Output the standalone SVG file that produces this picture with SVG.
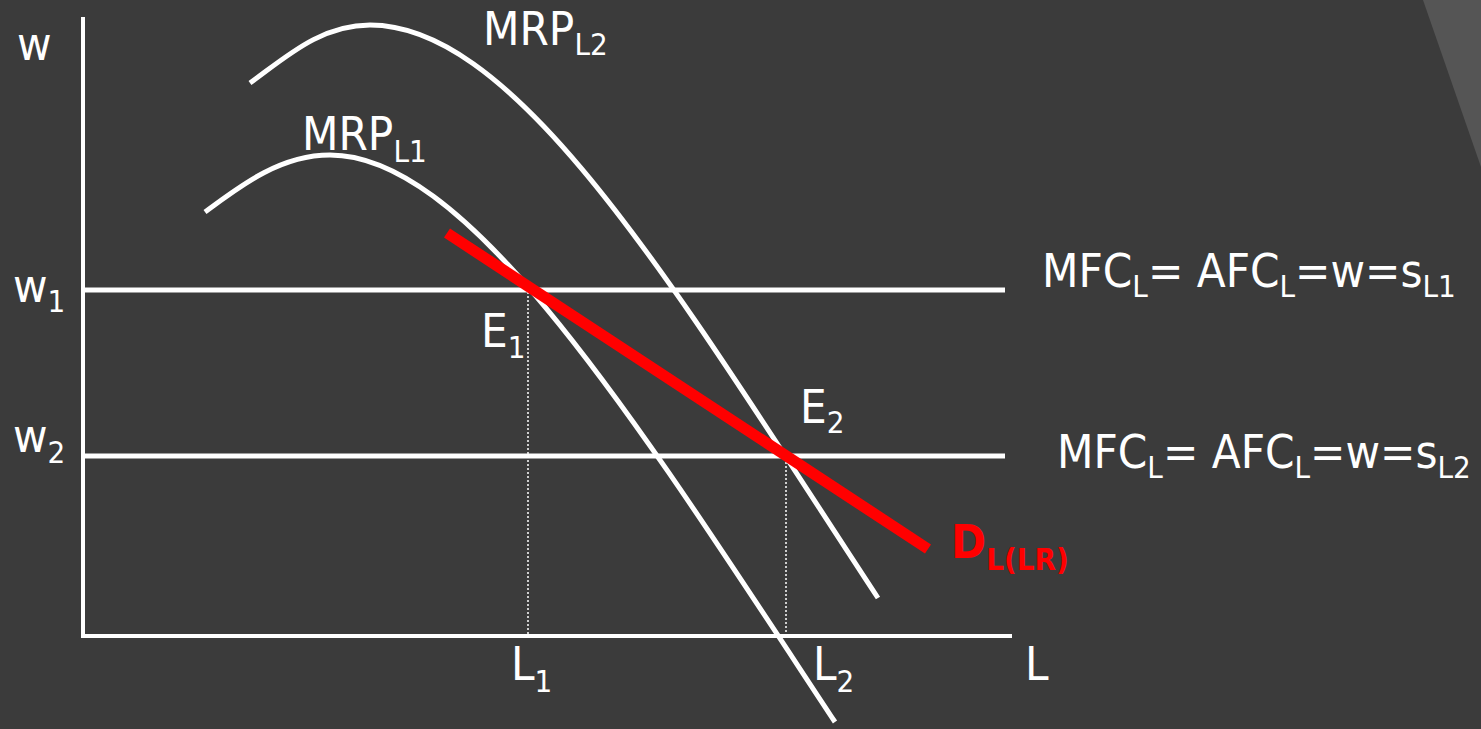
<svg xmlns="http://www.w3.org/2000/svg" width="1481" height="729" viewBox="0 0 1481 729">
  <style>
    .t { font-family: "DejaVu Sans Condensed", "DejaVu Sans", sans-serif; font-stretch: condensed; fill: #ffffff; font-size: 47px; }
    .s { font-size: 31px; }
    .r { fill: #ff0000; font-weight: bold; }
    .ln { stroke: #ffffff; stroke-width: 5; fill: none; }
    .ax { stroke: #ffffff; stroke-width: 4; fill: none; }
    .dot { stroke: #ffffff; stroke-width: 1.5; stroke-dasharray: 2 2; fill: none; }
  </style>
  <rect width="1481" height="729" fill="#3b3b3b"/>
  <polygon points="1423,0 1481,0 1481,167" fill="#555555"/>

  <g id="connectors">
    <line class="ax" x1="83" y1="17" x2="83" y2="637"/>
    <line class="ax" x1="81" y1="636" x2="1012" y2="636"/>
    <line class="ln" x1="83" y1="290" x2="1005" y2="290"/>
    <line class="ln" x1="83" y1="456" x2="1005" y2="456"/>
    <line class="dot" x1="528" y1="292" x2="528" y2="634"/>
    <line class="dot" x1="786" y1="458" x2="786" y2="634"/>
    <path id="mrp1" class="ln" d="M205,212 C240,186 280,155 330,155 C470,155 637,422 835,722"/>
    <path id="mrp2" class="ln" d="M250,83 C285,58 320,25 370,25 C520,25 681,298 878,598"/>
    <line id="dlr" x1="447" y1="233" x2="928" y2="549" stroke="#ff0000" stroke-width="11"/>
  </g>

  <g id="label-w"><text class="t" x="17" y="60">w</text></g>
  <g id="label-w1"><text class="t" x="13" y="302">w<tspan class="s" dy="10">1</tspan></text></g>
  <g id="label-w2"><text class="t" x="13" y="452">w<tspan class="s" dy="11">2</tspan></text></g>
  <g id="label-mrp2"><text class="t" x="483" y="45">MRP<tspan class="s" dy="10">L2</tspan></text></g>
  <g id="label-mrp1"><text class="t" x="302" y="150">MRP<tspan class="s" dy="12">L1</tspan></text></g>
  <g id="label-e1"><text class="t" x="481" y="347">E<tspan class="s" dy="11">1</tspan></text></g>
  <g id="label-e2"><text class="t" x="800" y="423">E<tspan class="s" dy="10">2</tspan></text></g>
  <g id="label-l1"><text class="t" x="511" y="680">L<tspan class="s" dy="12">1</tspan></text></g>
  <g id="label-l2"><text class="t" x="813" y="680">L<tspan class="s" dy="12">2</tspan></text></g>
  <g id="label-l"><text class="t" x="1025" y="680">L</text></g>
  <g id="label-mfc1">
    <text class="t" x="1042" y="287">MFC<tspan class="s" dy="10">L</tspan><tspan dy="-10">= AFC</tspan><tspan class="s" dy="10">L</tspan><tspan dy="-10">=w=s</tspan><tspan class="s" dy="10">L1</tspan></text>
  </g>
  <g id="label-mfc2">
    <text class="t" x="1057" y="468">MFC<tspan class="s" dy="10">L</tspan><tspan dy="-10">= AFC</tspan><tspan class="s" dy="10">L</tspan><tspan dy="-10">=w=s</tspan><tspan class="s" dy="10">L2</tspan></text>
  </g>
  <g id="label-d"><text class="t r" x="951" y="558">D<tspan class="s" dy="12">L(LR)</tspan></text></g>
</svg>
